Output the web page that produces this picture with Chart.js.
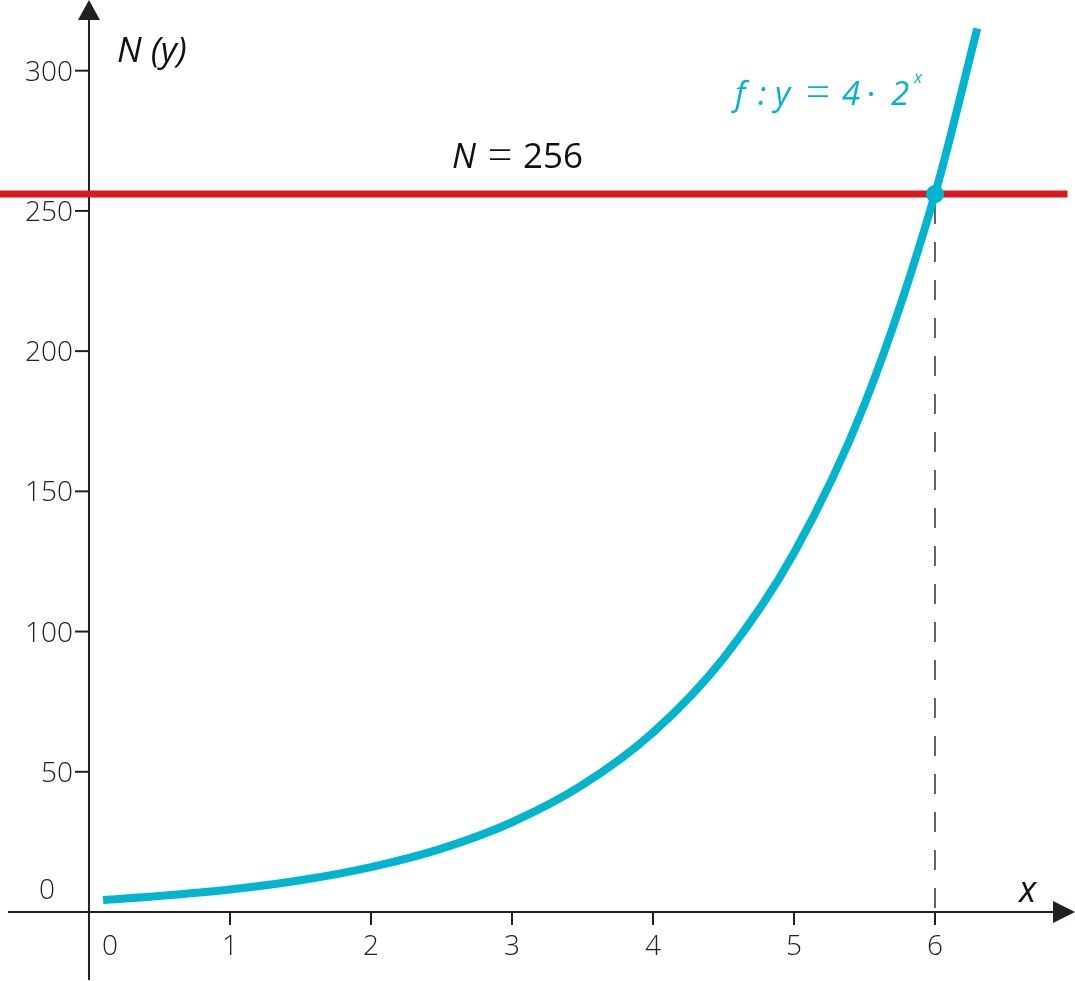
<!DOCTYPE html>
<html>
<head>
<meta charset="utf-8">
<script src="https://cdn.jsdelivr.net/npm/chart.js@4/dist/chart.umd.min.js"></script>
<style>
  html, body { margin: 0; padding: 0; background: #fff; }
  #wrap { width: 1075px; height: 981px; position: relative; }
</style>
</head>
<body>
<div id="wrap"><canvas id="chart"></canvas></div>
<script>
// values
const curveX = [0.1, 0.5, 1, 1.5, 2, 2.5, 3, 3.5, 4, 4.5, 5, 5.5, 6, 6.3];
const curveY = [4.3, 5.7, 8, 11.3, 16, 22.6, 32, 45.3, 64, 90.5, 128, 181, 256, 315];
const limitN = 256;
const limitX = 6;
const xTicks = [1, 2, 3, 4, 5, 6];
const yTicks = [50, 100, 150, 200, 250, 300];

const X_MIN = -0.631, X_MAX = 6.993;
const Y_MIN = -24.6, Y_MAX = 325.2;

const CYAN = '#00b5cd';
const RED = '#d71920';
const INK = '#231f20';

const axesPlugin = {
    id: 'axes',
    beforeDatasetsDraw(chart) {
        let ctx = chart.ctx;
        let xs = chart.scales.x, ys = chart.scales.y;
        let x0 = xs.getPixelForValue(0), y0 = ys.getPixelForValue(0);
        ctx.save();
        ctx.strokeStyle = INK;
        ctx.fillStyle = INK;
        ctx.lineWidth = 2;
        // x axis
        ctx.beginPath();
        ctx.moveTo(8, y0);
        ctx.lineTo(1056, y0);
        ctx.stroke();
        ctx.beginPath();
        ctx.moveTo(1075, y0);
        ctx.lineTo(1053, y0 - 11);
        ctx.lineTo(1053, y0 + 11);
        ctx.closePath();
        ctx.fill();
        // y axis
        ctx.beginPath();
        ctx.moveTo(x0, 980);
        ctx.lineTo(x0, 18);
        ctx.stroke();
        ctx.beginPath();
        ctx.moveTo(x0, 0);
        ctx.lineTo(x0 - 11, 20);
        ctx.lineTo(x0 + 11, 20);
        ctx.closePath();
        ctx.fill();
        // ticks + labels
        ctx.font = '300 28px "Open Sans"';
        ctx.fillStyle = '#222';
        ctx.textAlign = 'center';
        ctx.textBaseline = 'alphabetic';
        xTicks.forEach(v => {
            let px = xs.getPixelForValue(v);
            ctx.beginPath();
            ctx.moveTo(px, y0);
            ctx.lineTo(px, y0 + 13);
            ctx.stroke();
            ctx.fillText(String(v), px, 955);
        });
        ctx.textAlign = 'right';
        ctx.textBaseline = 'middle';
        yTicks.forEach(v => {
            let py = ys.getPixelForValue(v);
            ctx.beginPath();
            ctx.moveTo(x0 - 14, py);
            ctx.lineTo(x0, py);
            ctx.stroke();
            ctx.fillText(String(v), 73, py + 2);
        });
        ctx.textAlign = 'left';
        ctx.textBaseline = 'alphabetic';
        ctx.fillText('0', 102, 955);
        ctx.fillText('0', 39, 899);
        // dashed drop line, dashes start at the top
        let lx = xs.getPixelForValue(limitX);
        ctx.lineWidth = 1.4;
        ctx.setLineDash([20, 18]);
        ctx.beginPath();
        ctx.moveTo(lx, ys.getPixelForValue(limitN) + 10);
        ctx.lineTo(lx, y0);
        ctx.stroke();
        ctx.restore();
    },
    afterDraw(chart) {
        let ctx = chart.ctx;
        ctx.save();
        ctx.textBaseline = 'alphabetic';
        ctx.textAlign = 'left';
        ctx.fillStyle = '#111';
        ctx.font = 'italic 35px "Open Sans"';
        ctx.fillText('N (y)', 117, 62);
        ctx.font = 'italic 36px "Open Sans"';
        ctx.fillText('x', 1019, 902);
        // N = 256
        ctx.font = 'italic 34px "Open Sans"';
        ctx.fillText('N', 452, 168);
        ctx.font = '300 44px "Open Sans"';
        ctx.textAlign = 'center';
        ctx.fillText('=', 500, 170);
        ctx.textAlign = 'left';
        ctx.font = '35px "Open Sans"';
        ctx.fillText(String(limitN), 523, 168);
        // function label
        ctx.fillStyle = CYAN;
        ctx.font = 'italic 33px "Open Sans"';
        ctx.fillText('f', 735, 105);
        ctx.fillText(':', 758, 105);
        ctx.fillText('y', 775, 105);
        ctx.fillText('4', 842, 105);
        ctx.fillText('2', 891, 105);
        ctx.font = '300 44px "Open Sans"';
        ctx.textAlign = 'center';
        ctx.fillText('=', 818, 107);
        ctx.font = '33px "Open Sans"';
        ctx.fillText('·', 871, 105);
        ctx.textAlign = 'left';
        ctx.font = 'italic 17px "Open Sans"';
        ctx.fillText('x', 914, 83);
        ctx.restore();
    }
};

const curvePoints = curveX.map((x, i) => ({ x: x, y: curveY[i] }));

new Chart(document.getElementById('chart'), {
    type: 'line',
    data: {
        datasets: [
            {
                label: 'point',
                data: [{ x: limitX, y: limitN }],
                showLine: false,
                pointRadius: 9,
                pointBackgroundColor: CYAN,
                pointBorderWidth: 0
            },
            {
                label: 'f',
                data: curvePoints,
                borderColor: CYAN,
                borderWidth: 8,
                pointRadius: 0,
                cubicInterpolationMode: 'monotone',
                borderCapStyle: 'butt'
            },
            {
                label: 'N',
                data: [{ x: X_MIN, y: limitN }, { x: 6.94, y: limitN }],
                borderColor: RED,
                borderWidth: 7,
                pointRadius: 0
            }
        ]
    },
    options: {
        responsive: true,
        maintainAspectRatio: false,
        animation: false,
        layout: { padding: 0, autoPadding: false },
        plugins: { legend: { display: false }, tooltip: { enabled: false } },
        scales: {
            x: { type: 'linear', min: X_MIN, max: X_MAX, display: false },
            y: { type: 'linear', min: Y_MIN, max: Y_MAX, display: false }
        }
    },
    plugins: [axesPlugin]
});
</script>
</body>
</html>
